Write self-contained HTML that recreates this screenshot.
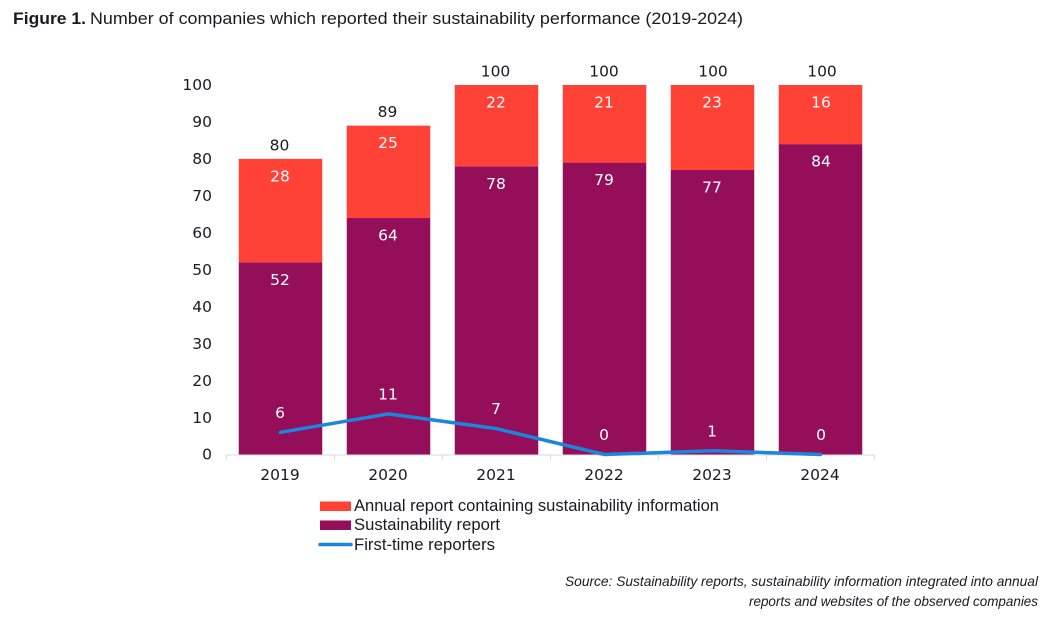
<!DOCTYPE html>
<html lang="en">
<head>
<meta charset="utf-8">
<title>Figure 1</title>
<style>
html,body{margin:0;padding:0;background:#fff;}
svg{display:block;}
text{font-family:"DejaVu Sans","Liberation Sans",sans-serif;fill:#1a1a24;}
.lib{font-family:"Liberation Sans",sans-serif;}
.num{font-size:15.5px;text-anchor:middle;}
.inner{fill:#fff;}
</style>
</head>
<body>
<svg id="chart" width="1051" height="625" viewBox="0 0 1051 625" xmlns="http://www.w3.org/2000/svg">
  <text class="lib" x="13" y="24" font-size="17" font-weight="bold" textLength="73" lengthAdjust="spacingAndGlyphs">Figure 1.</text>
  <text class="lib" x="90" y="24" font-size="17" textLength="653" lengthAdjust="spacingAndGlyphs">Number of companies which reported their sustainability performance (2019-2024)</text>

  <g id="y-axis"></g>
  <g id="bars"></g>
  <g id="x-axis"></g>
  <g id="line-layer"></g>
  <g id="labels"></g>

  <g>
    <g>
      <rect x="320" y="501.5" width="31" height="9.5" fill="#ff4136"></rect>
      <text class="lib" x="354" y="511" font-size="16.5" textLength="365" lengthAdjust="spacingAndGlyphs">Annual report containing sustainability information</text>
    </g>
    <g>
      <rect x="320" y="520.5" width="31" height="9.5" fill="#940e5a"></rect>
      <text class="lib" x="354" y="530" font-size="16.5" textLength="146" lengthAdjust="spacingAndGlyphs">Sustainability report</text>
    </g>
    <g>
      <line x1="320" y1="544.5" x2="351" y2="544.5" stroke="#1c86dc" stroke-width="3.5" stroke-linecap="round"></line>
      <text class="lib" x="354" y="550" font-size="16.5" textLength="141" lengthAdjust="spacingAndGlyphs">First-time reporters</text>
    </g>
  </g>

  <text class="lib" x="565" y="586" font-size="14" font-style="italic" textLength="473" lengthAdjust="spacingAndGlyphs">Source: Sustainability reports, sustainability information integrated into annual</text>
  <text class="lib" x="749" y="606" font-size="14" font-style="italic" textLength="289" lengthAdjust="spacingAndGlyphs">reports and websites of the observed companies</text>
</svg>
<script>
const categories = ['2019', '2020', '2021', '2022', '2023', '2024'];
const sustainabilityReport = [52, 64, 78, 79, 77, 84];
const annualReport = [28, 25, 22, 21, 23, 16];
const firstTimeReporters = [6, 11, 7, 0, 1, 0];
const yTicks = [0, 10, 20, 30, 40, 50, 60, 70, 80, 90, 100];

const NS = 'http://www.w3.org/2000/svg';
const plotLeft = 226.5, catWidth = 108, barWidth = 83.5, y0 = 454.5, yTop = 85, yMax = 100;
const xCenter = i => plotLeft + catWidth * (i + 0.5);
const yScale = v => y0 - (v / yMax) * (y0 - yTop);
const plotRight = plotLeft + catWidth * categories.length;
const totalDrift = i => Math.max(-1, i - 3.5);
const innerDrift = i => (i === categories.length - 1 ? 0.5 : -0.5);

function make(tag, attrs, parent, content) {
  const el = document.createElementNS(NS, tag);
  for (const k in attrs) el.setAttribute(k, attrs[k]);
  if (content !== undefined) el.textContent = content;
  parent.appendChild(el);
  return el;
}

const yAxis = document.getElementById('y-axis');
const xAxis = document.getElementById('x-axis');
const bars = document.getElementById('bars');
const lineLayer = document.getElementById('line-layer');
const labels = document.getElementById('labels');

yTicks.forEach(t => {
  const el = make('text', {x: 212, y: yScale(t) + 5.2, 'font-size': 15.5, 'text-anchor': 'end'}, yAxis, String(t));
  
  
});

categories.forEach((c, i) => {
  const cx = xCenter(i);
  const sTop = yScale(sustainabilityReport[i]);
  const total = sustainabilityReport[i] + annualReport[i];
  const aTop = yScale(total);

  const sBar = make('rect', {x: cx - barWidth / 2, y: sTop, width: barWidth, height: y0 - sTop, fill: '#940e5a'}, bars);
  
  

  const aBar = make('rect', {x: cx - barWidth / 2, y: aTop, width: barWidth, height: sTop - aTop, fill: '#ff4136'}, bars);
  
  

  const cat = make('text', {x: cx - 0.5, y: 480, class: 'num'}, xAxis, c);
  
  

  const totalLabel = make('text', {x: cx + totalDrift(i), y: aTop - 8.5, class: 'num'}, labels, String(total));
  
  

  const aLabel = make('text', {x: cx + innerDrift(i), y: aTop + 22.5, class: 'num inner'}, labels, String(annualReport[i]));
  
  

  const sLabel = make('text', {x: cx + innerDrift(i), y: sTop + 22.5, class: 'num inner'}, labels, String(sustainabilityReport[i]));
  
  

  const fLabel = make('text', {x: cx + innerDrift(i), y: yScale(firstTimeReporters[i]) - 14.5, class: 'num inner'}, labels, String(firstTimeReporters[i]));
  
  
});

const baseline = make('line', {x1: plotLeft, y1: y0 + 0.5, x2: plotRight, y2: y0 + 0.5, stroke: '#d9d9d9', 'stroke-width': 1}, xAxis);



for (let i = 0; i <= categories.length; i++) {
  const tx = plotLeft + catWidth * i;
  const tick = make('line', {x1: tx, y1: y0 + 0.5, x2: tx, y2: y0 + 5, stroke: '#d9d9d9', 'stroke-width': 1}, xAxis);
  
  
}

const linePoints = firstTimeReporters.map((v, i) => xCenter(i) + ',' + yScale(v)).join(' ');
const line = make('polyline', {points: linePoints, fill: 'none', stroke: '#1c86dc', 'stroke-width': 3.5, 'stroke-linecap': 'round', 'stroke-linejoin': 'round'}, lineLayer);


</script>
</body>
</html>
